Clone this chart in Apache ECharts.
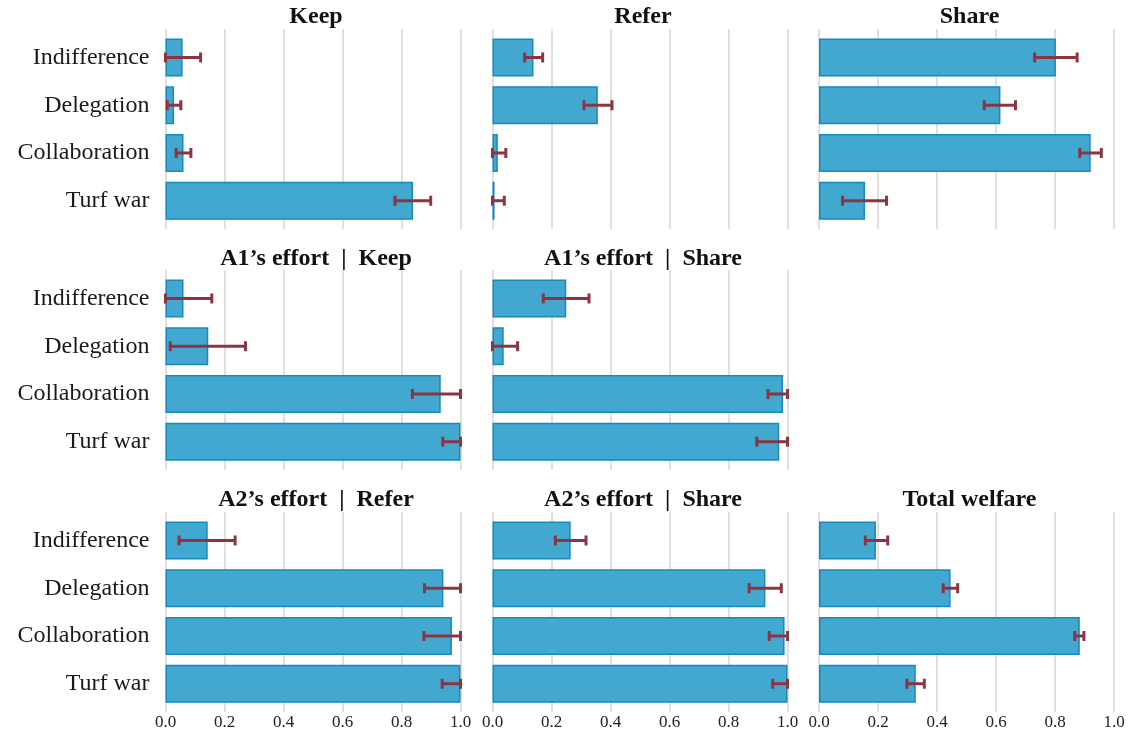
<!DOCTYPE html>
<html><head><meta charset="utf-8">
<script src="https://cdn.jsdelivr.net/npm/echarts@6/dist/echarts.min.js"></script>
<style>html,body{margin:0;padding:0;background:#fff}#c{width:1130px;height:735px}</style>
</head><body><div id="c"></div>
<script>
const categories = ['Indifference', 'Delegation', 'Collaboration', 'Turf war'];
const xTicks = [0, 0.2, 0.4, 0.6, 0.8, 1.0];

const keepMean = [0.058, 0.029, 0.061, 0.839];
const keepLo   = [0.000, 0.006, 0.036, 0.778];
const keepHi   = [0.119, 0.052, 0.086, 0.899];

const referMean = [0.139, 0.357, 0.018, 0.007];
const referLo   = [0.109, 0.310, 0.000, 0.000];
const referHi   = [0.170, 0.405, 0.045, 0.040];

const shareMean = [0.803, 0.615, 0.921, 0.156];
const shareLo   = [0.731, 0.560, 0.884, 0.080];
const shareHi   = [0.875, 0.666, 0.957, 0.229];

const a1KeepMean = [0.061, 0.145, 0.933, 1.000];
const a1KeepLo   = [0.000, 0.016, 0.837, 0.940];
const a1KeepHi   = [0.157, 0.271, 1.000, 1.000];

const a1ShareMean = [0.250, 0.038, 0.985, 0.972];
const a1ShareLo   = [0.172, 0.000, 0.934, 0.896];
const a1ShareHi   = [0.327, 0.085, 1.000, 1.000];

const a2ReferMean = [0.143, 0.942, 0.971, 1.000];
const a2ReferLo   = [0.046, 0.878, 0.876, 0.938];
const a2ReferHi   = [0.236, 1.000, 1.000, 1.000];

const a2ShareMean = [0.265, 0.925, 0.990, 1.000];
const a2ShareLo   = [0.213, 0.870, 0.938, 0.950];
const a2ShareHi   = [0.317, 0.979, 1.000, 1.000];

const welfareMean = [0.193, 0.446, 0.884, 0.328];
const welfareLo   = [0.157, 0.421, 0.867, 0.298];
const welfareHi   = [0.233, 0.470, 0.898, 0.357];

const panels = [
  {title: 'Keep', mean: keepMean, lo: keepLo, hi: keepHi, row: 0, col: 0},
  {title: 'Refer', mean: referMean, lo: referLo, hi: referHi, row: 0, col: 1},
  {title: 'Share', mean: shareMean, lo: shareLo, hi: shareHi, row: 0, col: 2},
  {title: 'A1’s effort  |  Keep', mean: a1KeepMean, lo: a1KeepLo, hi: a1KeepHi, row: 1, col: 0},
  {title: 'A1’s effort  |  Share', mean: a1ShareMean, lo: a1ShareLo, hi: a1ShareHi, row: 1, col: 1},
  {title: 'A2’s effort  |  Refer', mean: a2ReferMean, lo: a2ReferLo, hi: a2ReferHi, row: 2, col: 0},
  {title: 'A2’s effort  |  Share', mean: a2ShareMean, lo: a2ShareLo, hi: a2ShareHi, row: 2, col: 1},
  {title: 'Total welfare', mean: welfareMean, lo: welfareLo, hi: welfareHi, row: 2, col: 2}
];

// layout
const colLeft = [165.5, 492.5, 819];
const plotW = 295;
const bandTop = [33.6, 274.6, 516.6];
const bandH = 191;
const gridPad = 4.5;
const titleY = [16.5, 258.5, 499.5];
const FONT = '"Liberation Serif", "DejaVu Serif", serif';
const barFill = '#42a8cf';
const barEdge = '#1689bd';
const errColor = '#8c3541';

const grid = [], xAxis = [], yAxis = [], series = [], graphic = [];

panels.forEach((p, i) => {
  const left = colLeft[p.col];
  grid.push({left: left, top: bandTop[p.row], width: plotW, height: bandH, containLabel: false});
  grid.push({left: left, top: bandTop[p.row] - gridPad, width: plotW, height: bandH + 2 * gridPad, containLabel: false});
  const gBar = 2 * i, gLine = 2 * i + 1;
  const bottomRow = p.row === 2;
  xAxis.push({
    type: 'value', gridIndex: gBar, min: 0, max: 1, interval: 0.2,
    axisLine: {show: false}, axisTick: {show: false}, splitLine: {show: false},
    axisLabel: {show: bottomRow, margin: 6, fontFamily: FONT, fontSize: 17, color: '#222',
      formatter: v => xTicks.indexOf(Math.round(v * 10) / 10) >= 0 ? v.toFixed(1) : ''}
  });
  yAxis.push({
    type: 'category', gridIndex: gBar, data: categories, inverse: true,
    axisLine: {show: false}, axisTick: {show: false},
    axisLabel: {show: p.col === 0, margin: 16, fontFamily: FONT, fontSize: 24, color: '#1a1a1a'}
  });
  xAxis.push({
    type: 'value', gridIndex: gLine, min: 0, max: 1, interval: 0.2,
    axisLine: {show: false}, axisTick: {show: false}, axisLabel: {show: false},
    splitLine: {show: true, lineStyle: {color: '#d6d6d6', width: 1.5}}
  });
  yAxis.push({type: 'value', gridIndex: gLine, show: false, min: 0, max: 1});

  series.push({
    type: 'bar', xAxisIndex: gBar, yAxisIndex: gBar, data: p.mean,
    barWidth: 38, z: 3,
    itemStyle: {color: barFill, borderColor: barEdge, borderWidth: 1.5},
    silent: true
  });
  const errData = categories.map((c, k) => [k, p.lo[k], p.hi[k]]);
  series.push({
    type: 'custom', xAxisIndex: gBar, yAxisIndex: gBar, data: errData, z: 5, clip: false,
    encode: {y: 0, x: [1, 2]},
    renderItem: (params, api) => {
      const k = api.value(0);
      const a = api.coord([api.value(1), k]);
      const b = api.coord([api.value(2), k]);
      const h = 5;
      const st = {stroke: errColor, lineWidth: 3};
      return {type: 'group', children: [
        {type: 'line', shape: {x1: a[0], y1: a[1], x2: b[0], y2: b[1]}, style: st},
        {type: 'line', shape: {x1: a[0], y1: a[1] - h, x2: a[0], y2: a[1] + h}, style: st},
        {type: 'line', shape: {x1: b[0], y1: b[1] - h, x2: b[0], y2: b[1] + h}, style: st}
      ]};
    }
  });

  graphic.push({
    type: 'text', x: left + plotW / 2 + 3, y: titleY[p.row],
    style: {text: p.title, fontFamily: FONT, fontWeight: 'bold', fontSize: 24, fill: '#111',
      textAlign: 'center', textVerticalAlign: 'middle'}
  });
});

const chart = echarts.init(document.getElementById('c'), null, {renderer: 'canvas'});
chart.setOption({animation: false, grid, xAxis, yAxis, series, graphic});
</script>
</body></html>
